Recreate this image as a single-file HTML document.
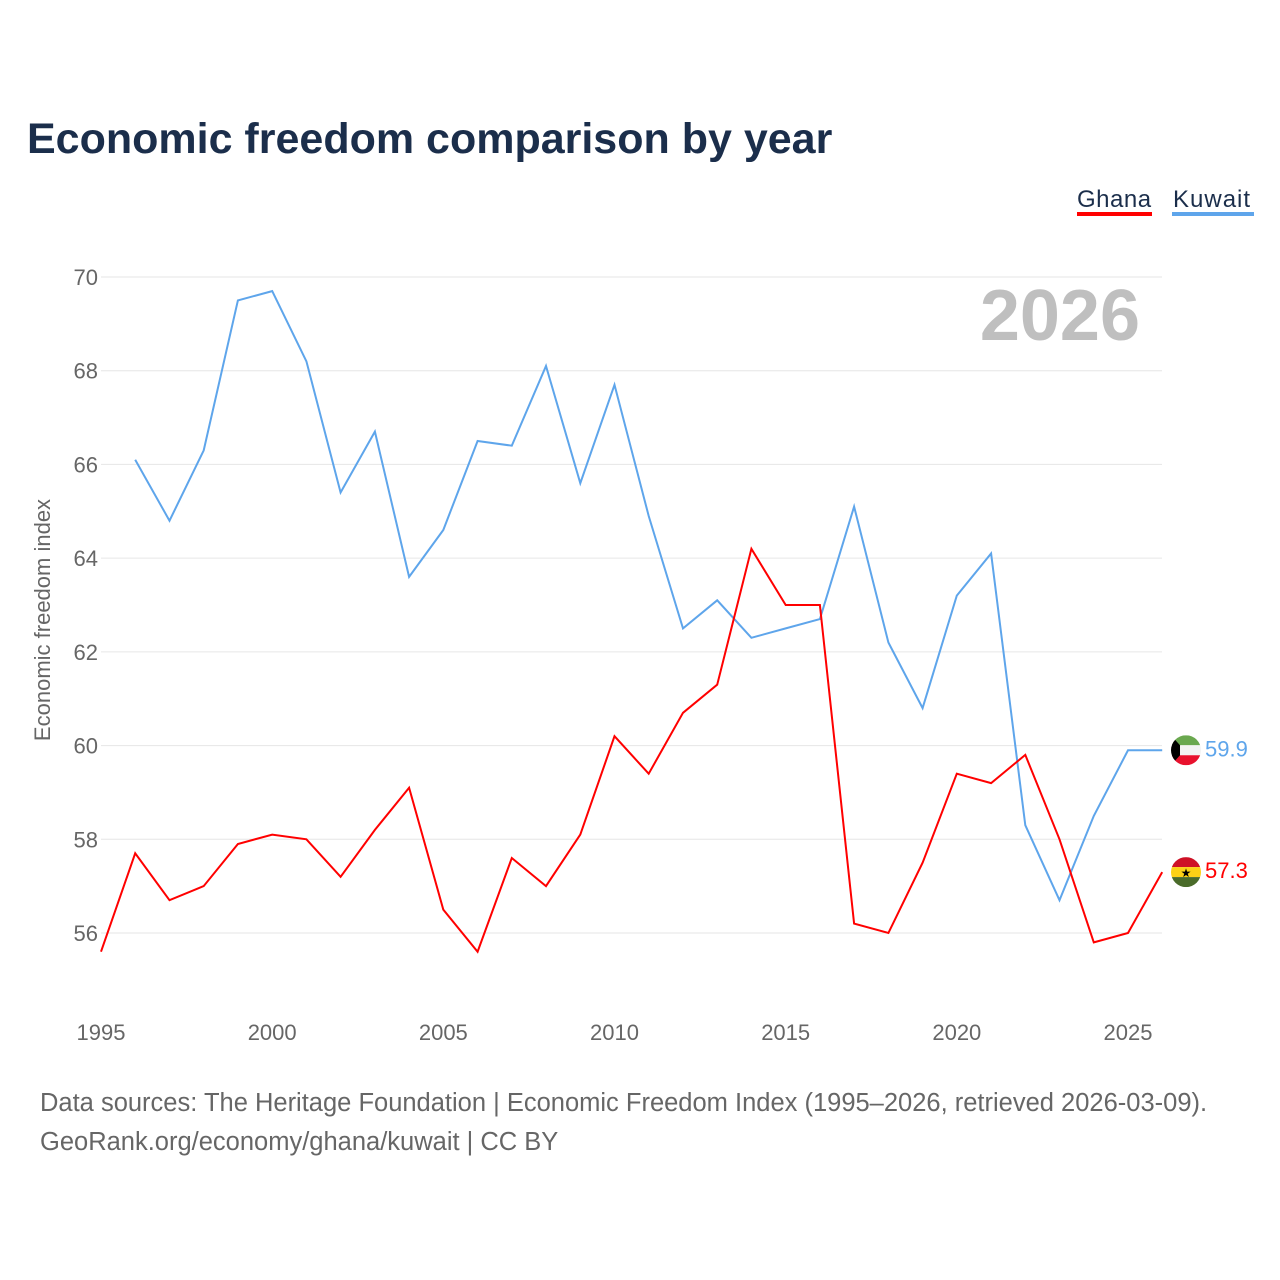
<!DOCTYPE html>
<html><head><meta charset="utf-8"><style>
body{margin:0;background:#fff;font-family:"Liberation Sans",sans-serif;}
#wrap{position:relative;width:1280px;height:1280px;}
</style></head><body>
<div id="wrap">
<svg id="chart" width="1280" height="1280" style="position:absolute;left:0;top:0">
<text x="27" y="153" font-size="43" font-weight="bold" fill="#1b2e4b">Economic freedom comparison by year</text>
<g><text x="1077" y="207" font-size="24" fill="#1b2e4b" letter-spacing="0.5">Ghana</text><rect x="1077" y="212" width="75" height="4" fill="#ff0000"/></g>
<g><text x="1173" y="207" font-size="24" fill="#1b2e4b" letter-spacing="1">Kuwait</text><rect x="1172" y="212" width="82" height="4" fill="#5ea5eb"/></g>
<text x="1140" y="340" font-size="72" font-weight="bold" fill="#bfbfbf" text-anchor="end">2026</text>
<text transform="translate(50,620) rotate(-90)" font-size="22" fill="#666" text-anchor="middle">Economic freedom index</text>
<g id="grid"></g><g id="lines"></g>
<text x="40" y="1111" font-size="25.5" fill="#666">Data sources: The Heritage Foundation | Economic Freedom Index (1995–2026, retrieved 2026-03-09).</text>
<text x="40" y="1150" font-size="25.5" fill="#666">GeoRank.org/economy/ghana/kuwait | CC BY</text>
</svg></div>
<script>
const years=[1995,1996,1997,1998,1999,2000,2001,2002,2003,2004,2005,2006,2007,2008,2009,2010,2011,2012,2013,2014,2015,2016,2017,2018,2019,2020,2021,2022,2023,2024,2025,2026];
const ghana=[55.6,57.7,56.7,57.0,57.9,58.1,58.0,57.2,58.2,59.1,56.5,55.6,57.6,57.0,58.1,60.2,59.4,60.7,61.3,64.2,63.0,63.0,56.2,56.0,57.5,59.4,59.2,59.8,58.0,55.8,56.0,57.3];
const kuwait=[null,66.1,64.8,66.3,69.5,69.7,68.2,65.4,66.7,63.6,64.6,66.5,66.4,68.1,65.6,67.7,64.9,62.5,63.1,62.3,62.5,62.7,65.1,62.2,60.8,63.2,64.1,58.3,56.7,58.5,59.9,59.9];
const yTicks=[56,58,60,62,64,66,68,70];
const xTicks=[1995,2000,2005,2010,2015,2020,2025];
const X=y=>101+(y-1995)*(1128-101)/30;
const Y=v=>277+(70-v)*(933-277)/14;
const NS="http://www.w3.org/2000/svg";
const grid=document.getElementById('grid'),lines=document.getElementById('lines');
function mk(tag,attrs,parent){const e=document.createElementNS(NS,tag);for(const k in attrs)e.setAttribute(k,attrs[k]);parent.appendChild(e);return e;}
yTicks.forEach(t=>{
 const l=mk('line',{x1:101,x2:1162,y1:Y(t),y2:Y(t),stroke:'#e6e6e6','stroke-width':1},grid);
 
 
 const tx=mk('text',{x:98,y:Y(t)+8,'font-size':22,fill:'#666','text-anchor':'end'},grid);tx.textContent=t;
 
 
});
xTicks.forEach(t=>{
 const tx=mk('text',{x:X(t),y:1040,'font-size':22,fill:'#666','text-anchor':'middle'},grid);tx.textContent=t;
 
 
});
function series(data,color,name){
 let d='';data.forEach((v,i)=>{if(v==null)return;d+=(d?'L':'M')+X(years[i]).toFixed(1)+','+Y(v).toFixed(1);});
 const p=mk('path',{d:d,fill:'none',stroke:color,'stroke-width':2},lines);
 
 
 const last=data[data.length-1];
 const t=mk('text',{x:1205,y:Y(last)+6,'font-size':22,fill:color},lines);t.textContent=last.toFixed(1);
 
 
 return Y(last);
}
const ky=series(kuwait,'#5ea5eb','kuwait');
const gy=series(ghana,'#ff0000','ghana');
const fk=mk('g',{},lines);


const ck=mk('clipPath',{id:'ck'},fk);mk('circle',{cx:1186,cy:ky,r:15},ck);
const gk=mk('g',{'clip-path':'url(#ck)'},fk);
mk('rect',{x:1171,y:ky-15,width:30,height:10,fill:'#6aa84f'},gk);
mk('rect',{x:1171,y:ky-5,width:30,height:10,fill:'#f3f3f3'},gk);
mk('rect',{x:1171,y:ky+5,width:30,height:10,fill:'#e8112d'},gk);
mk('polygon',{points:`1171,${ky-15} 1180,${ky-5} 1180,${ky+5} 1171,${ky+15}`,fill:'#000'},gk);
const fg=mk('g',{},lines);


const cg=mk('clipPath',{id:'cg'},fg);mk('circle',{cx:1186,cy:gy,r:15},cg);
const gg=mk('g',{'clip-path':'url(#cg)'},fg);
mk('rect',{x:1171,y:gy-15,width:30,height:10,fill:'#ce1126'},gg);
mk('rect',{x:1171,y:gy-5,width:30,height:10,fill:'#fcd116'},gg);
mk('rect',{x:1171,y:gy+5,width:30,height:10,fill:'#4a6b2a'},gg);
const st=mk('text',{x:1186,y:gy+5,'font-size':12,'text-anchor':'middle',fill:'#000'},gg);st.textContent='★';
</script>
</body></html>
